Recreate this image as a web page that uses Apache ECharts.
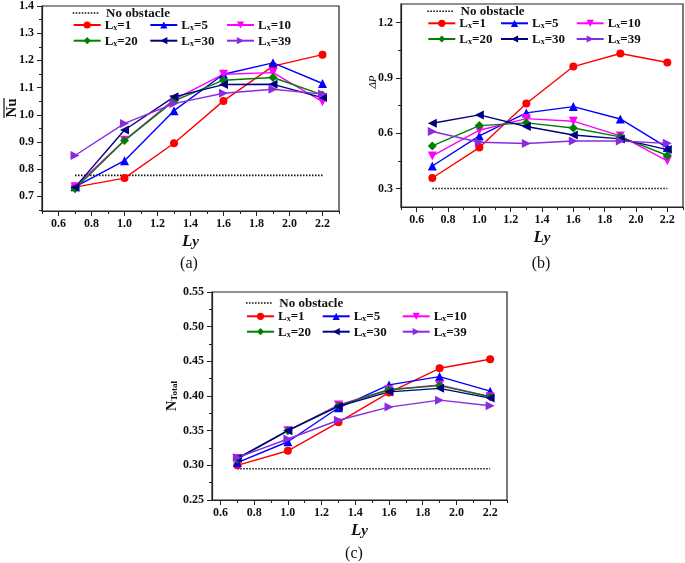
<!DOCTYPE html>
<html><head><meta charset="utf-8">
<script src="https://cdn.jsdelivr.net/npm/echarts@6/dist/echarts.min.js"></script>
<style>html,body{margin:0;padding:0;background:#fff}#c{width:685px;height:563px}</style>
</head><body><div id="c"></div>
<script>
// ---- data ----
const ly = [0.7, 1.0, 1.3, 1.6, 1.9, 2.2];
const seriesNames = ['Lx=1', 'Lx=5', 'Lx=10', 'Lx=20', 'Lx=30', 'Lx=39'];
const noObstacleName = 'No obstacle';

// (a) average Nusselt number
const nuLx1  = [0.734, 0.767, 0.895, 1.051, 1.179, 1.221];
const nuLx5  = [0.735, 0.831, 1.015, 1.149, 1.191, 1.115];
const nuLx10 = [0.735, 0.906, 1.056, 1.149, 1.155, 1.048];
const nuLx20 = [0.728, 0.905, 1.051, 1.127, 1.137, 1.073];
const nuLx30 = [0.733, 0.944, 1.066, 1.111, 1.112, 1.063];
const nuLx39 = [0.850, 0.968, 1.041, 1.079, 1.094, 1.076];
const nuNoObstacle = 0.777;

// (b) pressure drop
const dpLx1  = [0.357, 0.522, 0.761, 0.961, 1.032, 0.983];
const dpLx5  = [0.422, 0.585, 0.710, 0.744, 0.677, 0.522];
const dpLx10 = [0.477, 0.616, 0.679, 0.665, 0.585, 0.450];
const dpLx20 = [0.531, 0.641, 0.656, 0.628, 0.580, 0.479];
const dpLx30 = [0.654, 0.699, 0.636, 0.590, 0.569, 0.511];
const dpLx39 = [0.609, 0.551, 0.544, 0.558, 0.558, 0.545];
const dpNoObstacle = 0.300;

// (c) total entropy generation
const ntLx1  = [0.300, 0.321, 0.362, 0.405, 0.440, 0.453];
const ntLx5  = [0.304, 0.334, 0.383, 0.416, 0.428, 0.407];
const ntLx10 = [0.310, 0.350, 0.387, 0.409, 0.416, 0.399];
const ntLx20 = [0.309, 0.350, 0.386, 0.409, 0.415, 0.399];
const ntLx30 = [0.310, 0.350, 0.385, 0.406, 0.411, 0.397];
const ntLx39 = [0.311, 0.338, 0.365, 0.384, 0.394, 0.386];
const ntNoObstacle = 0.295;

// tick labels
const xTicks = [0.6, 0.8, 1.0, 1.2, 1.4, 1.6, 1.8, 2.0, 2.2];
const xMinorA = [0.5, 0.7, 0.9, 1.1, 1.3, 1.5, 1.7, 1.9, 2.1, 2.3];
const xMinorC = [0.7, 0.9, 1.1, 1.3, 1.5, 1.7, 1.9, 2.1, 2.3];
const yTicksA = [0.7, 0.8, 0.9, 1.0, 1.1, 1.2, 1.3, 1.4];
const yMinorA = [0.65, 0.75, 0.85, 0.95, 1.05, 1.15, 1.25, 1.35];
const yTicksB = [0.3, 0.6, 0.9, 1.2];
const yMinorB = [0.45, 0.75, 1.05];
const yTicksC = [0.25, 0.30, 0.35, 0.40, 0.45, 0.50, 0.55];
const yMinorC = [0.275, 0.325, 0.375, 0.425, 0.475, 0.525];

// ---- styles ----
const COLORS = ['#ff0000', '#0000ff', '#ff00ff', '#008000', '#000080', '#8a2be2'];
const SYMS = ['circle', 'triangle', 'path://M0,0L10,0L5,9Z', 'diamond', 'path://M9,0L9,10L0,5Z', 'path://M0,0L0,10L9,5Z'];
const FONT = 'Liberation Serif';
const AX = '#222';

// dotted legend icon for the "No obstacle" line
let dotPath = 'path://';
for (let i = 0; i < 9; i++) dotPath += 'M' + (i * 3) + ',0h1.6v1.6h-1.6Z';

const plots = [
  { data: [nuLx1, nuLx5, nuLx10, nuLx20, nuLx30, nuLx39], noObs: nuNoObstacle,
    grid: { left: 42, top: 5, width: 297, height: 206 },
    xr: [0.5, 2.3], yr: [0.646, 1.4], xMin: xMinorA, yMaj: yTicksA, yMin: yMinorA, yDec: 1,
    yName: '', yGap: 0,
    leg: { x: [72.7, 149.3, 226], y: [14, 26, 41.7] } },
  { data: [dpLx1, dpLx5, dpLx10, dpLx20, dpLx30, dpLx39], noObs: dpNoObstacle,
    grid: { left: 401, top: 4, width: 282, height: 203 },
    xr: [0.5, 2.3], yr: [0.2, 1.3], xMin: xMinorA, yMaj: yTicksB, yMin: yMinorB, yDec: 1,
    yName: '', yGap: 0,
    leg: { x: [427.3, 500, 575.7], y: [12.3, 24.3, 40] } },
  { data: [ntLx1, ntLx5, ntLx10, ntLx20, ntLx30, ntLx39], noObs: ntNoObstacle,
    grid: { left: 212, top: 292, width: 295, height: 208 },
    xr: [0.55, 2.3], yr: [0.25, 0.55], xMin: xMinorC, yMaj: yTicksC, yMin: yMinorC, yDec: 2,
    yName: '{b|N}{s|Total}', yGap: 30,
    leg: { x: [246, 321.7, 401.7], y: [304, 317.3, 332.7] } }
];

const labelFont = { fontFamily: FONT, fontWeight: 'bold', fontSize: 12, color: '#111' };
const grids = [], xAxes = [], yAxes = [], series = [], legends = [];

function legendFmt(n) {
  if (n === noObstacleName) return '{b|' + n + '}';
  return '{b|L}{s|x}{b|' + n.slice(2) + '}';
}
const legendRich = {
  b: { fontFamily: FONT, fontWeight: 'bold', fontSize: 13, color: '#111', lineHeight: 14, verticalAlign: 'bottom' },
  s: { fontFamily: FONT, fontWeight: 'bold', fontSize: 8, color: '#111', lineHeight: 8, verticalAlign: 'bottom' }
};
function addLegend(name, x, yc) {
  const isNo = name === noObstacleName;
  legends.push({
    data: [isNo ? { name: name, icon: dotPath, itemStyle: { color: '#111' } } : name],
    left: x, top: yc - 7, padding: 0, itemGap: 0,
    itemWidth: 27, itemHeight: isNo ? 1.6 : 9, selectedMode: false,
    formatter: legendFmt, textStyle: { rich: legendRich, padding: [0, 0, 0, isNo ? 2 : -1] }
  });
}

plots.forEach((p, gi) => {
  grids.push(Object.assign({ show: true, borderColor: AX, borderWidth: 1.2, containLabel: false }, p.grid));
  const xName = '{l|L}{y|y}';
  xAxes.push({
    type: 'value', gridIndex: gi, position: 'bottom', min: p.xr[0], max: p.xr[1],
    axisLine: { show: true, onZero: false, lineStyle: { color: AX, width: 1.2 } },
    axisTick: { show: true, length: 5, customValues: xTicks, lineStyle: { color: AX, width: 1 } },
    axisLabel: Object.assign({ customValues: xTicks, margin: 7, formatter: v => v.toFixed(1) }, labelFont),
    splitLine: { show: false },
    name: xName, nameLocation: 'middle', nameGap: 21,
    nameTextStyle: { rich: {
      l: { fontFamily: FONT, fontStyle: 'italic', fontWeight: 'bold', fontSize: 17, color: '#111', verticalAlign: 'bottom', lineHeight: 18 },
      y: { fontFamily: FONT, fontStyle: 'italic', fontWeight: 'bold', fontSize: 15, color: '#111', verticalAlign: 'bottom', lineHeight: 13 }
    } }
  });
  xAxes.push({
    type: 'value', gridIndex: gi, position: 'bottom', min: p.xr[0], max: p.xr[1],
    axisLine: { show: false }, axisLabel: { show: false }, splitLine: { show: false },
    axisTick: { show: true, length: 3, customValues: p.xMin, lineStyle: { color: AX, width: 1 } }
  });
  yAxes.push({
    type: 'value', gridIndex: gi, position: 'left', min: p.yr[0], max: p.yr[1],
    axisLine: { show: true, onZero: false, lineStyle: { color: AX, width: 1.2 } },
    axisTick: { show: true, length: 5, customValues: p.yMaj, lineStyle: { color: AX, width: 1 } },
    axisLabel: Object.assign({ customValues: p.yMaj, margin: 8, formatter: v => v.toFixed(p.yDec) }, labelFont),
    splitLine: { show: false },
    name: p.yName, nameLocation: 'middle', nameGap: p.yGap, nameRotate: 90,
    nameTextStyle: {
      fontFamily: FONT, fontWeight: 'bold', fontSize: 15, color: '#111',
      rich: {
        b: { fontFamily: FONT, fontSize: 14, color: '#111', verticalAlign: 'bottom', lineHeight: 16 },
        s: { fontFamily: FONT, fontSize: 9, color: '#111', verticalAlign: 'bottom', lineHeight: 10 }
      }
    }
  });
  yAxes.push({
    type: 'value', gridIndex: gi, position: 'left', min: p.yr[0], max: p.yr[1],
    axisLine: { show: false }, axisLabel: { show: false }, splitLine: { show: false },
    axisTick: { show: true, length: 3, customValues: p.yMin, lineStyle: { color: AX, width: 1 } }
  });
  const xi = gi * 2, yi = gi * 2;
  series.push({
    type: 'line', name: noObstacleName, xAxisIndex: xi, yAxisIndex: yi,
    data: [[ly[0], p.noObs], [ly[ly.length - 1], p.noObs]],
    symbol: 'none', silent: true, animation: false,
    lineStyle: { color: '#111', width: 1.6, type: [1.5, 1.5] }, itemStyle: { color: '#111' }
  });
  p.data.forEach((vals, si) => {
    series.push({
      type: 'line', name: seriesNames[si], xAxisIndex: xi, yAxisIndex: yi,
      data: ly.map((x, i) => [x, vals[i]]),
      symbol: SYMS[si], symbolSize: si === 0 ? 8 : 9, animation: false,
      lineStyle: { color: COLORS[si], width: 1.4 }, itemStyle: { color: COLORS[si] }
    });
  });
  addLegend(noObstacleName, p.leg.x[0], p.leg.y[0]);
  seriesNames.forEach((n, si) => {
    addLegend(n, p.leg.x[si % 3], p.leg.y[1 + Math.floor(si / 3)]);
  });
});

const option = {
  backgroundColor: '#fff',
  animation: false,
  grid: grids, xAxis: xAxes, yAxis: yAxes, series: series, legend: legends,
  graphic: [
    { type: 'group', x: 12, y: 108, rotation: Math.PI / 2, children: [
      { type: 'text', x: 0, y: 0,
        style: { text: 'Nu', font: 'bold 15px "Liberation Serif"', fill: '#111', align: 'center', verticalAlign: 'middle' } },
      { type: 'line', shape: { x1: -10, y1: -8, x2: 10, y2: -8 }, style: { stroke: '#111', lineWidth: 1.2 } }
    ] },
    { type: 'text', x: 373, y: 82, rotation: Math.PI / 2,
      style: { text: '\u0394P', font: 'italic 11px "Liberation Serif"', fill: '#111', align: 'center', verticalAlign: 'middle' } },
    { type: 'text', x: 189, y: 264, style: { text: '(a)', font: '16px "Liberation Serif"', fill: '#111', align: 'center', verticalAlign: 'middle' } },
    { type: 'text', x: 541, y: 264, style: { text: '(b)', font: '16px "Liberation Serif"', fill: '#111', align: 'center', verticalAlign: 'middle' } },
    { type: 'text', x: 354, y: 554, style: { text: '(c)', font: '16px "Liberation Serif"', fill: '#111', align: 'center', verticalAlign: 'middle' } }
  ]
};
const chart = echarts.init(document.getElementById('c'), null, { renderer: 'canvas' });
chart.setOption(option);
</script>
</body></html>
